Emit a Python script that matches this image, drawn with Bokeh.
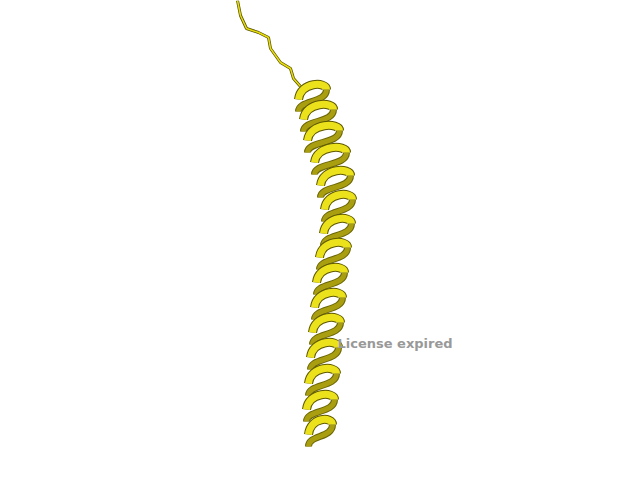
from bokeh.plotting import figure
from bokeh.embed import file_html
from bokeh.resources import INLINE
from bokeh.core.properties import value

# helix turn centres (pixel coords) and half widths
turn_x = [312, 318, 323, 330, 335, 338, 337, 333, 330, 328, 326, 324, 322, 320, 320]
turn_y = [95, 115, 136, 158, 181, 205, 229, 253, 278, 303, 328, 353, 379, 405, 430]
turn_w = [14, 15, 16, 16, 15, 14, 14, 14, 14, 14, 14, 14, 14, 14, 12]

# thin loop at the N-terminus
loop_x = [237, 240, 246, 258, 268, 270, 280, 290, 293, 300, 310]
loop_y = [0, 15, 28, 32, 37, 48, 62, 68, 78, 86, 88]

p = figure(width=624, height=464, x_range=(0, 624), y_range=(464, 0),
           output_backend="svg", toolbar_location=None, min_border=0)
p.axis.visible = False
p.grid.visible = False
p.outline_line_color = None

p.line(loop_x, loop_y, line_color="#5a5400", line_width=3)
p.line(loop_x, loop_y, line_color="#e6dc10", line_width=1.5)

x0, y0, x1, y1, cx0, cy0, cx1, cy1 = [], [], [], [], [], [], [], []
bx0, by0, bx1, by1, bcx0, bcy0, bcx1, bcy1 = [], [], [], [], [], [], [], []
for x, y, w in zip(turn_x, turn_y, turn_w):
    # back strand, right to lower left
    bx0.append(x + w); by0.append(y - 6)
    bx1.append(x - w); by1.append(y + 16)
    bcx0.append(x + w); bcy0.append(y + 8)
    bcx1.append(x - w); bcy1.append(y + 4)
    # front strand, left to right
    x0.append(x - w); y0.append(y + 4)
    x1.append(x + w); y1.append(y - 6)
    cx0.append(x - w + 2); cy0.append(y - 14)
    cx1.append(x + w); cy1.append(y - 14)

p.bezier(x0=bx0, y0=by0, x1=bx1, y1=by1, cx0=bcx0, cy0=bcy0, cx1=bcx1, cy1=bcy1,
         line_color="#6b6505", line_width=7)
p.bezier(x0=bx0, y0=by0, x1=bx1, y1=by1, cx0=bcx0, cy0=bcy0, cx1=bcx1, cy1=bcy1,
         line_color="#a89e10", line_width=5)
p.bezier(x0=x0, y0=y0, x1=x1, y1=y1, cx0=cx0, cy0=cy0, cx1=cx1, cy1=cy1,
         line_color="#5e5800", line_width=9)
p.bezier(x0=x0, y0=y0, x1=x1, y1=y1, cx0=cx0, cy0=cy0, cx1=cx1, cy1=cy1,
         line_color="#ece21c", line_width=7)

p.text(x=[337], y=[343], text=["License expired"], text_font=value("DejaVu Sans"),
       text_font_style="bold", text_font_size="13px", text_color="#999999",
       text_baseline="middle")

open("out.html", "w").write(file_html(p, INLINE))
